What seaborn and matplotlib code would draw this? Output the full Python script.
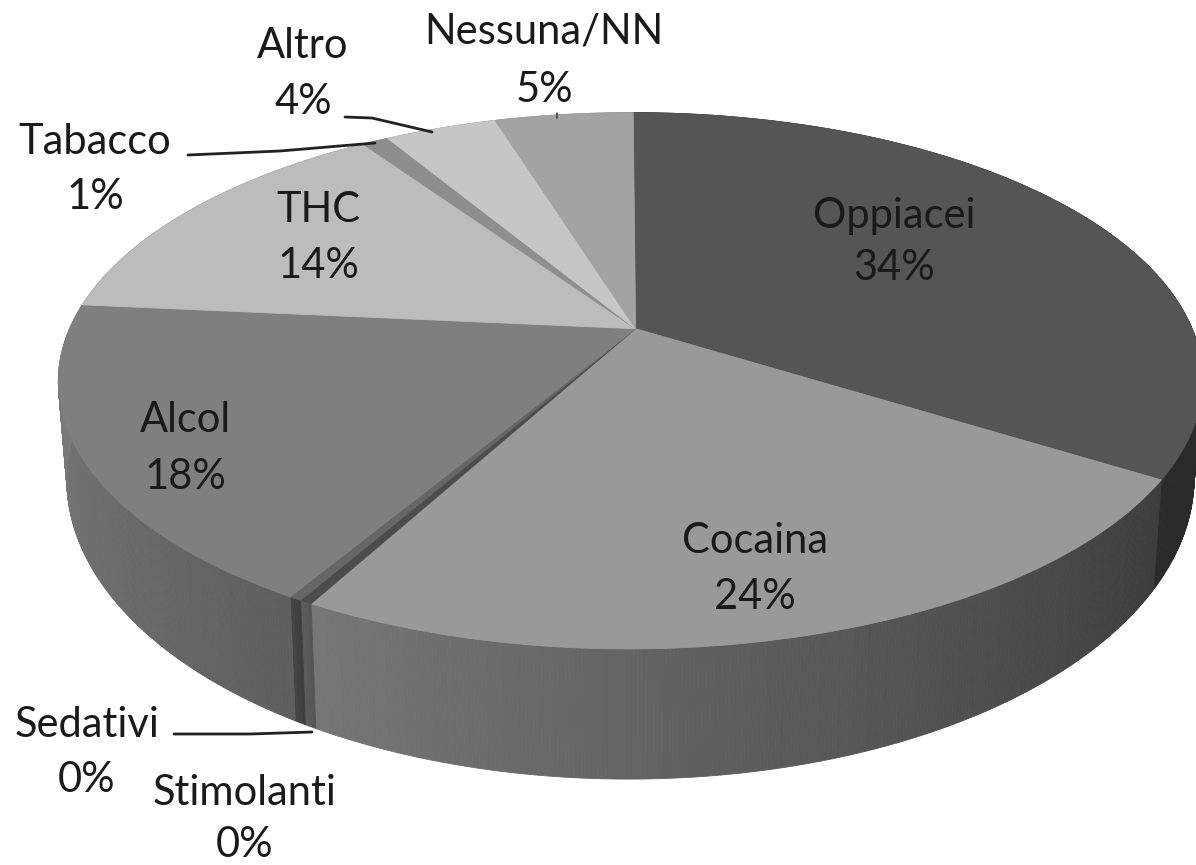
import numpy as np
import matplotlib
matplotlib.use('Agg')
import matplotlib.pyplot as plt
import matplotlib.transforms as mtransforms
import seaborn as sns

categories = ['Oppiacei', 'Cocaina', 'Stimolanti', 'Sedativi', 'Alcol', 'THC', 'Tabacco', 'Altro', 'Nessuna/NN']
values = [34.0, 24.0, 0.3, 0.3, 18.0, 14.0, 0.9, 3.8, 4.7]
pct_labels = ['34%', '24%', '0%', '0%', '18%', '14%', '1%', '4%', '5%']

top_colors = ['#555555', '#999999', '#4c4c4c', '#666666', '#7f7f7f', '#bcbcbc', '#8e8e8e', '#c6c6c6', '#a3a3a3']
# wall shade at the start and the end of each slice (clockwise)
wall_colors = [('#262626', '#2a2a2a'), ('#3c3c3c', '#767676'), ('#555555', '#5a5a5a'), ('#3e3e3e', '#444444'),
               ('#5e5e5e', '#808080'), ('#808080', '#808080'), ('#808080', '#808080'), ('#808080', '#808080'),
               ('#808080', '#808080')]

label_pos = {
    'Oppiacei': (894, 216, 268), 'Cocaina': (755, 541, 597), 'Stimolanti': (245, 793, 845),
    'Sedativi': (87, 725, 780), 'Alcol': (185, 420, 477), 'THC': (318, 210, 266),
    'Tabacco': (95, 142, 197), 'Altro': (303, 46, 102), 'Nessuna/NN': (544, 31, 90),
}

# where points of the unit pie land on the picture, used to fit the tilt
fit_fracs = [0.0, 0.34, 0.34, 0.5, 0.58, 0.58, 0.586, 0.766, 0.766, 0.906, 0.95]
fit_px = [(630, 113), (1164, 479), (1164, 479), (630, 648), (315, 604), (315, 604), (299, 598),
          (77, 304), (77, 304), (375, 143), (487, 122)]


def unit_point(frac):
    a = 2 * np.pi * frac
    return np.sin(a), np.cos(a)


def fit_homography(src, dst):
    rows, rhs = [], []
    for (x, y), (u, v) in zip(src, dst):
        rows.append([x, y, 1, 0, 0, 0, -u * x, -u * y])
        rows.append([0, 0, 0, x, y, 1, -v * x, -v * y])
        rhs += [u, v]
    h = np.linalg.lstsq(np.array(rows, float), np.array(rhs, float), rcond=None)[0]
    return np.append(h, 1).reshape(3, 3)


class Tilt(mtransforms.Transform):
    input_dims = 2
    output_dims = 2

    def __init__(self, h):
        super().__init__()
        self.h = h

    def transform_non_affine(self, pts):
        pts = np.asarray(pts, float)
        p = np.c_[pts, np.ones(len(pts))] @ self.h.T
        return p[:, :2] / p[:, 2:]


src = [unit_point(f) for f in fit_fracs] + [(0, 0)] * 2
dst = fit_px + [(630, 330)] * 2
tilt = Tilt(fit_homography(src, dst))


def lower_rim(p):
    # bottom edge of the wall under a point of the top rim
    h = 110 + (p[:, 1] - 480) * 0.12
    return np.c_[630 + (p[:, 0] - 630) * 0.985, p[:, 1] + h]


sns.set_theme(style='white')
plt.rcParams['font.family'] = ['Lato', 'DejaVu Sans']

fig = plt.figure(figsize=(11.96, 8.65), dpi=100)
ax = fig.add_axes([0, 0, 1, 1])

wedges, _ = ax.pie(values, colors=top_colors, startangle=90, counterclock=False)
ax.set_aspect('auto')
ax.set_xlim(0, 1196)
ax.set_ylim(865, 0)
ax.axis('off')

for w, c in zip(wedges, top_colors):
    w.set_transform(tilt + ax.transData)
    w.set_edgecolor(c)
    w.set_linewidth(0.6)
    w.set_zorder(3)

# side wall, narrow strips under the rim
for w, shades in zip(wedges, wall_colors):
    n = max(2, int(abs(w.theta2 - w.theta1) * 3))
    t = np.radians(np.linspace(w.theta2, w.theta1, n + 1))
    rim = tilt.transform_non_affine(np.c_[np.cos(t), np.sin(t)])
    low = lower_rim(rim)
    pal = sns.blend_palette(list(shades), n)
    for i in range(n):
        xs = [rim[i, 0], rim[i + 1, 0], low[i + 1, 0], low[i, 0]]
        ys = [rim[i, 1], rim[i + 1, 1], low[i + 1, 1], low[i, 1]]
        ax.fill(xs, ys, color=pal[i], lw=0.6, zorder=2)

for name, pct in zip(categories, pct_labels):
    x, y1, y2 = label_pos[name]
    ax.text(x, y1, name, ha='center', va='center', fontsize=30, color='#1a1a1a', zorder=5)
    ax.text(x, y2, pct, ha='center', va='center', fontsize=30, color='#1a1a1a', zorder=5)

# leader lines
ax.plot([188, 280, 375], [155, 151, 143], color='#222222', lw=2, zorder=4)
ax.plot([345, 372, 432], [117, 118, 132], color='#222222', lw=2, zorder=4)
ax.plot([557, 557], [113, 118], color='#444444', lw=1.2, zorder=4)
ax.plot([174, 250, 312], [734, 734, 732], color='#222222', lw=2, zorder=4)

fig.savefig('out.png', dpi=100, facecolor='white')
plt.close(fig)
